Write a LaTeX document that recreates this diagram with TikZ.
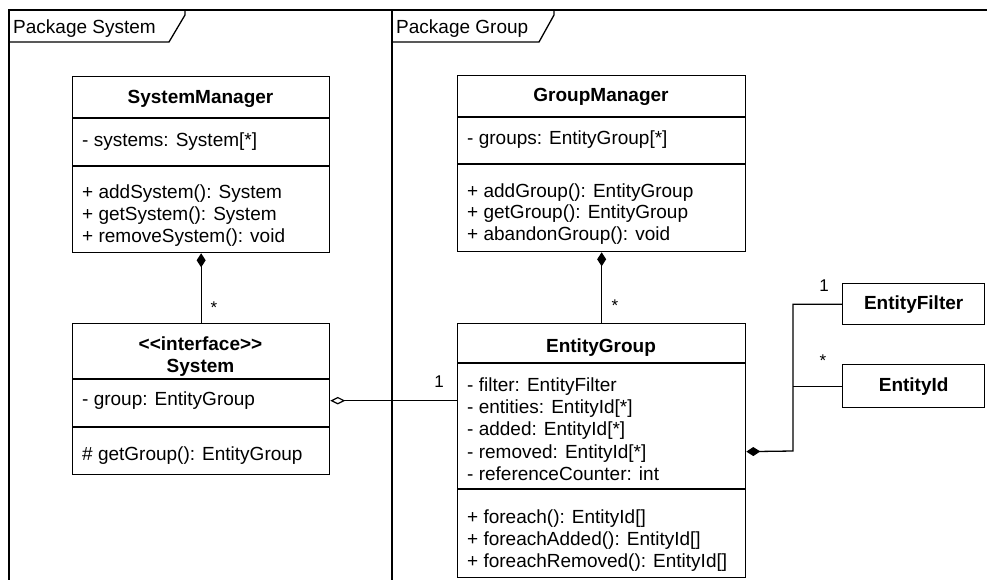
\documentclass[tikz,border=0pt]{standalone}
\usepackage{fontspec}
\setmainfont{Liberation Sans}
\usetikzlibrary{arrows.meta,calc}
\tikzset{
  ln/.style={line width=1.3pt},
  umlbox/.style={draw, line width=1.3pt, anchor=north west, inner sep=0pt, fill=white},
  txt/.style={inner sep=0pt, anchor=base west, font=\fontsize{19}{21.5}\selectfont},
  ttl/.style={inner sep=0pt, anchor=base, font=\fontsize{19}{21.5}\selectfont\bfseries},
  mult/.style={inner sep=0pt, anchor=base, font=\fontsize{17}{20}\selectfont},
  comp/.style={ln, {Diamond[length=14pt,width=9pt]}-},
  agg/.style={ln, {Diamond[open,length=15pt,width=7.5pt,line width=1.2pt]}-},
}
\begin{document}
\begin{tikzpicture}[x=1pt,y=-1pt]
\useasboundingbox (0,0) rectangle (987,580);
\fill[white] (0,0) rectangle (987,580);
% package frames
\draw[ln] (9,580) -- (9,10) -- (987,10);
\draw[ln] (392,10) -- (392,580);
\draw[ln] (9,42) -- (169,42) -- (185,15) -- (185,10);
\draw[ln] (392,42) -- (539,42) -- (554,15) -- (554,10);
\node[txt] (pkgsys) at (13,34) {Package System};
\node[txt] (pkggrp) at (396,34) {Package Group};
% SystemManager
\node[umlbox, minimum width=257pt, minimum height=176pt] (sm) at (72,76) {};
\draw[ln] (72,118) -- (329,118);
\draw[ln] (72,166) -- (329,166);
\node[ttl] (smt) at (200.5,104) {SystemManager};
\node[txt] (sma) at (82,147) {- systems: System[*]};
\node[txt] (smm1) at (82,199) {+ addSystem(): System};
\node[txt] (smm2) at (82,220.5) {+ getSystem(): System};
\node[txt] (smm3) at (82,242) {+ removeSystem(): void};
% System
\node[umlbox, minimum width=257pt, minimum height=151pt] (sys) at (72,323) {};
\draw[ln] (72,379) -- (329,379);
\draw[ln] (72,427) -- (329,427);
\node[ttl] (syst1) at (200.5,350) {{<}{<}interface{>}{>}};
\node[ttl] (syst2) at (200.5,372) {System};
\node[txt] (sysa) at (82,405) {- group: EntityGroup};
\node[txt] (sysm) at (82,460) {\# getGroup(): EntityGroup};
% GroupManager
\node[umlbox, minimum width=288pt, minimum height=176pt] (gm) at (457,75) {};
\draw[ln] (457,117) -- (745,117);
\draw[ln] (457,164) -- (745,164);
\node[ttl] (gmt) at (601,102) {GroupManager};
\node[txt] (gma) at (467,145) {- groups: EntityGroup[*]};
\node[txt] (gmm1) at (467,197) {+ addGroup(): EntityGroup};
\node[txt] (gmm2) at (467,218.5) {+ getGroup(): EntityGroup};
\node[txt] (gmm3) at (467,240) {+ abandonGroup(): void};
% EntityGroup
\node[umlbox, minimum width=288pt, minimum height=254pt] (eg) at (457,323) {};
\draw[ln] (457,363) -- (745,363);
\draw[ln] (457,489) -- (745,489);
\node[ttl] (egt) at (601,352) {EntityGroup};
\node[txt] (ega1) at (467,391) {- filter: EntityFilter};
\node[txt] (ega2) at (467,413) {- entities: EntityId[*]};
\node[txt] (ega3) at (467,435.5) {- added: EntityId[*]};
\node[txt] (ega4) at (467,458) {- removed: EntityId[*]};
\node[txt] (ega5) at (467,480) {- referenceCounter: int};
\node[txt] (egm1) at (467,523) {+ foreach(): EntityId[]};
\node[txt] (egm2) at (467,545) {+ foreachAdded(): EntityId[]};
\node[txt] (egm3) at (467,567) {+ foreachRemoved(): EntityId[]};
% EntityFilter / EntityId
\node[umlbox, minimum width=142pt, minimum height=41pt, font=\fontsize{19}{21.5}\selectfont\bfseries] (ef) at (842,283) {EntityFilter};
\node[umlbox, minimum width=142pt, minimum height=43pt, font=\fontsize{19}{21.5}\selectfont\bfseries] (eid) at (842,364) {EntityId};
% connectors
\draw[comp] (sm.south) -- (sys.north);
\draw[comp] (gm.south) -- (gm.south |- eg.north);
\draw[agg] ([yshift=-1.5pt]sys.east) -- ([yshift=-1.5pt]sys.east -| eg.west);
\coordinate (j) at (793,451);
\draw[comp] ([yshift=-1pt]eg.east) -- (j) |- (ef.west);
\draw[ln] (j |- eid.west) -- (eid.west);
% multiplicities
\node[mult] (m1) at (214,313) {*};
\node[mult] (m2) at (615,311) {*};
\node[mult] (m3) at (439,387) {1};
\node[mult] (m4) at (824,291) {1};
\node[mult] (m5) at (823,366) {*};
\end{tikzpicture}
\end{document}
